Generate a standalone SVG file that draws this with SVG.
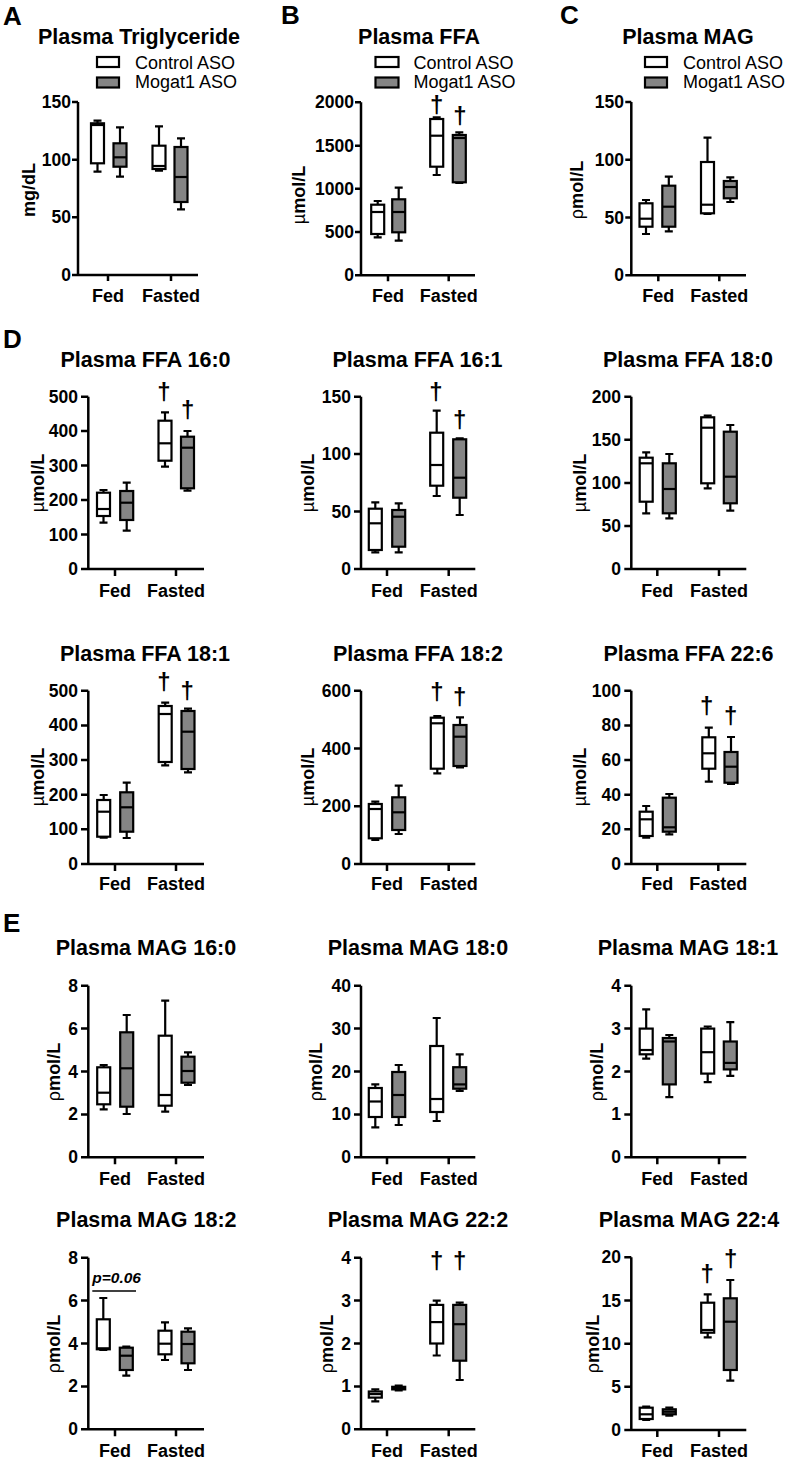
<svg xmlns="http://www.w3.org/2000/svg" width="787" height="1459" viewBox="0 0 787 1459">
<style>
text{font-family:"Liberation Sans",Arial,sans-serif;fill:#000}
.ax{stroke:#000;stroke-width:2.5;fill:none}
.wk{stroke:#000;stroke-width:2.2;fill:none}
.bw{stroke:#000;stroke-width:2.2;fill:#fff}
.bg{stroke:#000;stroke-width:2.2;fill:#858585}
.tl{font-size:17.5px;font-weight:bold;text-anchor:end}
.ti{font-size:21.5px;font-weight:bold;text-anchor:middle}
.xl{font-size:18px;font-weight:bold;text-anchor:middle}
.yl{font-size:18px;font-weight:bold;text-anchor:middle}
.pl{font-size:26px;font-weight:bold}
.lg{font-size:18px}
.dg{font-size:24px;font-weight:bold;text-anchor:middle}
.n{font-weight:normal}
</style>
<rect width="787" height="1459" fill="#fff"/>
<g id="panel-letters">
<text class="pl" x="3" y="25">A</text>
<text class="pl" x="281" y="24">B</text>
<text class="pl" x="560" y="24">C</text>
<text class="pl" x="3" y="348">D</text>
<text class="pl" x="3" y="932">E</text>
</g>

<!-- Panel A -->
<g id="panelA">
<text class="ti" x="139" y="44">Plasma Triglyceride</text>
<rect class="bw" x="97" y="57" width="22" height="10"/>
<rect class="bg" x="97" y="77.5" width="22" height="10"/>
<text class="lg" x="135" y="68.5">Control ASO</text>
<text class="lg" x="135" y="88">Mogat1 ASO</text>
<path class="ax" d="M78,102V275H198M72,102h6M72,159.7h6M72,217.3h6M72,275h6M108,275v6M171,275v6"/>
<text class="tl" x="71" y="108">150</text><text class="tl" x="71" y="165.7">100</text><text class="tl" x="71" y="223.3">50</text><text class="tl" x="71" y="281">0</text>
<text class="yl" transform="translate(35,190) rotate(-90)">mg/dL</text>
<text class="xl" x="108" y="302">Fed</text><text class="xl" x="171" y="302">Fasted</text>
<g id="A-ctl-fed"><path class="wk" d="M97.5,120.7V123.3M97.5,163.3V171.7M93.5,120.7h8M93.5,171.7h8"/><rect class="bw" x="91" y="123.3" width="13" height="40"/><path class="wk" d="M91,125h13"/></g>
<g id="A-mog-fed"><path class="wk" d="M120,127.3V143.3M120,166.7V176.7M116,127.3h8M116,176.7h8"/><rect class="bg" x="113.5" y="143.3" width="13" height="23.4"/><path class="wk" d="M113.5,157.3h13"/></g>
<g id="A-ctl-fast"><path class="wk" d="M159,126.3V145.7M159,169V170.7M155,126.3h8M155,170.7h8"/><rect class="bw" x="152.5" y="145.7" width="13" height="23.3"/><path class="wk" d="M152.5,166h13"/></g>
<g id="A-mog-fast"><path class="wk" d="M181,138.3V147M181,202V209.3M177,138.3h8M177,209.3h8"/><rect class="bg" x="174.5" y="147" width="13" height="55"/><path class="wk" d="M174.5,177h13"/></g>
</g>

<!-- Panel B -->
<g id="panelB">
<text class="ti" x="419" y="44">Plasma FFA</text>
<rect class="bw" x="375.5" y="57" width="23" height="10"/>
<rect class="bg" x="375.5" y="77.5" width="23" height="10"/>
<text class="lg" x="413.5" y="68.5">Control ASO</text>
<text class="lg" x="413.5" y="88">Mogat1 ASO</text>
<path class="ax" d="M361,102.3V275.3H475M355,102.3h6M355,145.7h6M355,188.7h6M355,232h6M355,275.3h6M388,275.3v6M448.7,275.3v6"/>
<text class="tl" x="354" y="108.3">2000</text><text class="tl" x="354" y="151.7">1500</text><text class="tl" x="354" y="194.7">1000</text><text class="tl" x="354" y="238">500</text><text class="tl" x="354" y="281.3">0</text>
<text class="yl" transform="translate(304.7,195) rotate(-90)"><tspan class="n">µ</tspan>mol/L</text>
<text class="xl" x="388" y="302">Fed</text><text class="xl" x="448.7" y="302">Fasted</text>
<g id="B-ctl-fed"><path class="wk" d="M377.7,201V204.7M377.7,234V237.3M373.7,201h8M373.7,237.3h8"/><rect class="bw" x="371.2" y="204.7" width="13" height="29.3"/><path class="wk" d="M371.2,212h13"/></g>
<g id="B-mog-fed"><path class="wk" d="M398.7,187.7V199.3M398.7,232.3V240.7M394.7,187.7h8M394.7,240.7h8"/><rect class="bg" x="392.2" y="199.3" width="13" height="33"/><path class="wk" d="M392.2,212h13"/></g>
<g id="B-ctl-fast"><path class="wk" d="M436.7,117.3V119M436.7,166.7V175M432.7,117.3h8M432.7,175h8"/><rect class="bw" x="430.2" y="119" width="13" height="47.7"/><path class="wk" d="M430.2,135.7h13"/></g>
<g id="B-mog-fast"><path class="wk" d="M459.3,132.3V135M459.3,182.3V183M455.3,132.3h8M455.3,183h8"/><rect class="bg" x="452.8" y="135" width="13" height="47.3"/><path class="wk" d="M452.8,138h13"/></g>
<text class="dg" x="436.7" y="112.5" font-size="22">†</text><text class="dg" x="460" y="124">†</text>
</g>

<!-- Panel C -->
<g id="panelC">
<text class="ti" x="688" y="44">Plasma MAG</text>
<rect class="bw" x="645" y="57" width="22" height="10"/>
<rect class="bg" x="645" y="77.5" width="22" height="10"/>
<text class="lg" x="683" y="68.5">Control ASO</text>
<text class="lg" x="683" y="88">Mogat1 ASO</text>
<path class="ax" d="M631.3,102V275.3H746M625.3,102h6M625.3,159.7h6M625.3,217.5h6M625.3,275.3h6M658.3,275.3v6M719.3,275.3v6"/>
<text class="tl" x="624" y="108">150</text><text class="tl" x="624" y="165.7">100</text><text class="tl" x="624" y="223.5">50</text><text class="tl" x="624" y="281.3">0</text>
<text class="yl" transform="translate(582.5,190) rotate(-90)"><tspan class="n">ρ</tspan>mol/L</text>
<text class="xl" x="658.3" y="302">Fed</text><text class="xl" x="719.3" y="302">Fasted</text>
<g id="C-ctl-fed"><path class="wk" d="M646,200V203.3M646,226.7V234M642,200h8M642,234h8"/><rect class="bw" x="639.5" y="203.3" width="13" height="23.4"/><path class="wk" d="M639.5,218.7h13"/></g>
<g id="C-mog-fed"><path class="wk" d="M668.8,176.7V185.7M668.8,226.7V231.3M664.8,176.7h8M664.8,231.3h8"/><rect class="bg" x="662.3" y="185.7" width="13" height="41"/><path class="wk" d="M662.3,206.7h13"/></g>
<g id="C-ctl-fast"><path class="wk" d="M707.5,137.7V162M707.5,213.3V214M703.5,137.7h8M703.5,214h8"/><rect class="bw" x="701" y="162" width="13" height="51.3"/><path class="wk" d="M701,204.7h13"/></g>
<g id="C-mog-fast"><path class="wk" d="M730.3,177.3V181M730.3,198.3V202M726.3,177.3h8M726.3,202h8"/><rect class="bg" x="723.8" y="181" width="13" height="17.3"/><path class="wk" d="M723.8,187h13"/></g>
</g>

<!-- D: FFA 16:0 -->
<g id="D-ffa160">
<text class="ti" x="145.5" y="367">Plasma FFA 16:0</text>
<path class="ax" d="M88.3,396.7V569H204M81,569h7.3M81,534.5h7.3M81,500.1h7.3M81,465.6h7.3M81,431.1h7.3M81,396.7h7.3M115,569v7M176,569v7"/>
<text class="tl" x="78" y="575">0</text><text class="tl" x="78" y="540.5">100</text><text class="tl" x="78" y="506.1">200</text><text class="tl" x="78" y="471.6">300</text><text class="tl" x="78" y="437.1">400</text><text class="tl" x="78" y="402.7">500</text>
<text class="yl" transform="translate(44,483) rotate(-90)"><tspan class="n">µ</tspan>mol/L</text>
<text class="xl" x="115" y="597">Fed</text><text class="xl" x="176" y="597">Fasted</text>
<g id="D1-ctl-fed"><path class="wk" d="M103.5,490V492.7M103.5,516V522.7M99.5,490h8M99.5,522.7h8"/><rect class="bw" x="97" y="492.7" width="13" height="23.3"/><path class="wk" d="M97,509h13"/></g>
<g id="D1-mog-fed"><path class="wk" d="M126.7,482.7V491M126.7,520V530.7M122.7,482.7h8M122.7,530.7h8"/><rect class="bg" x="120.2" y="491" width="13" height="29"/><path class="wk" d="M120.2,502.7h13"/></g>
<g id="D1-ctl-fast"><path class="wk" d="M165,412.3V420.7M165,460.7V466.7M161,412.3h8M161,466.7h8"/><rect class="bw" x="158.5" y="420.7" width="13" height="40"/><path class="wk" d="M158.5,443.3h13"/></g>
<g id="D1-mog-fast"><path class="wk" d="M187.5,431V436.7M187.5,488.3V490.7M183.5,431h8M183.5,490.7h8"/><rect class="bg" x="181" y="436.7" width="13" height="51.6"/><path class="wk" d="M181,447.7h13"/></g>
<text class="dg" x="164" y="400">†</text><text class="dg" x="187.7" y="418">†</text>
</g>

<!-- D: FFA 16:1 -->
<g id="D-ffa161">
<text class="ti" x="417.5" y="367">Plasma FFA 16:1</text>
<path class="ax" d="M361,396.7V569H475.3M354,569h7M354,511.6h7M354,454.1h7M354,396.7h7M387,569v7M448.7,569v7"/>
<text class="tl" x="351" y="575">0</text><text class="tl" x="351" y="517.6">50</text><text class="tl" x="351" y="460.1">100</text><text class="tl" x="351" y="402.7">150</text>
<text class="yl" transform="translate(314,483) rotate(-90)"><tspan class="n">µ</tspan>mol/L</text>
<text class="xl" x="387" y="597">Fed</text><text class="xl" x="448.7" y="597">Fasted</text>
<g id="D2-ctl-fed"><path class="wk" d="M375.3,502.3V508.7M375.3,550V552.3M371.3,502.3h8M371.3,552.3h8"/><rect class="bw" x="368.8" y="508.7" width="13" height="41.3"/><path class="wk" d="M368.8,523.3h13"/></g>
<g id="D2-mog-fed"><path class="wk" d="M398.7,503.3V510M398.7,546.7V552.3M394.7,503.3h8M394.7,552.3h8"/><rect class="bg" x="392.2" y="510" width="13" height="36.7"/><path class="wk" d="M392.2,516.7h13"/></g>
<g id="D2-ctl-fast"><path class="wk" d="M436.7,410.7V432.7M436.7,485.7V496M432.7,410.7h8M432.7,496h8"/><rect class="bw" x="430.2" y="432.7" width="13" height="53"/><path class="wk" d="M430.2,465h13"/></g>
<g id="D2-mog-fast"><path class="wk" d="M459.7,438.3V439.3M459.7,497.7V515M455.7,438.3h8M455.7,515h8"/><rect class="bg" x="453.2" y="439.3" width="13" height="58.4"/><path class="wk" d="M453.2,477.7h13"/></g>
<text class="dg" x="436" y="400">†</text><text class="dg" x="459.7" y="428">†</text>
</g>

<!-- D: FFA 18:0 -->
<g id="D-ffa180">
<text class="ti" x="688" y="367">Plasma FFA 18:0</text>
<path class="ax" d="M631.3,396.7V569H746.3M624.3,569h7M624.3,525.9h7M624.3,482.9h7M624.3,439.8h7M624.3,396.7h7M657.3,569v7M719,569v7"/>
<text class="tl" x="621" y="575">0</text><text class="tl" x="621" y="531.9">50</text><text class="tl" x="621" y="488.9">100</text><text class="tl" x="621" y="445.8">150</text><text class="tl" x="621" y="402.7">200</text>
<text class="yl" transform="translate(586,483) rotate(-90)"><tspan class="n">µ</tspan>mol/L</text>
<text class="xl" x="657.3" y="597">Fed</text><text class="xl" x="719" y="597">Fasted</text>
<g id="D3-ctl-fed"><path class="wk" d="M646.2,452.3V457.7M646.2,501.7V513.3M642.2,452.3h8M642.2,513.3h8"/><rect class="bw" x="639.7" y="457.7" width="13" height="44"/><path class="wk" d="M639.7,463.3h13"/></g>
<g id="D3-mog-fed"><path class="wk" d="M669.3,454V463.3M669.3,513.3V518.3M665.3,454h8M665.3,518.3h8"/><rect class="bg" x="662.8" y="463.3" width="13" height="50"/><path class="wk" d="M662.8,489h13"/></g>
<g id="D3-ctl-fast"><path class="wk" d="M707.7,415.7V417.3M707.7,483.3V488.3M703.7,415.7h8M703.7,488.3h8"/><rect class="bw" x="701.2" y="417.3" width="13" height="66"/><path class="wk" d="M701.2,427.7h13"/></g>
<g id="D3-mog-fast"><path class="wk" d="M730.3,425V431.7M730.3,503.3V510.7M726.3,425h8M726.3,510.7h8"/><rect class="bg" x="723.8" y="431.7" width="13" height="71.6"/><path class="wk" d="M723.8,476.7h13"/></g>
</g>

<!-- D: FFA 18:1 -->
<g id="D-ffa181">
<text class="ti" x="145" y="660.7">Plasma FFA 18:1</text>
<path class="ax" d="M88.3,690.7V864H204M81,864h7.3M81,829.3h7.3M81,794.7h7.3M81,760h7.3M81,725.4h7.3M81,690.7h7.3M115,864v7M176,864v7"/>
<text class="tl" x="78" y="870">0</text><text class="tl" x="78" y="835.3">100</text><text class="tl" x="78" y="800.7">200</text><text class="tl" x="78" y="766">300</text><text class="tl" x="78" y="731.4">400</text><text class="tl" x="78" y="696.7">500</text>
<text class="yl" transform="translate(43.5,777) rotate(-90)"><tspan class="n">µ</tspan>mol/L</text>
<text class="xl" x="115" y="890">Fed</text><text class="xl" x="176" y="890">Fasted</text>
<g id="D4-ctl-fed"><path class="wk" d="M103.7,795V800M103.7,836.7V837.7M99.7,795h8M99.7,837.7h8"/><rect class="bw" x="97.2" y="800" width="13" height="36.7"/><path class="wk" d="M97.2,811.7h13"/></g>
<g id="D4-mog-fed"><path class="wk" d="M126.7,782.7V792.3M126.7,831.7V838M122.7,782.7h8M122.7,838h8"/><rect class="bg" x="120.2" y="792.3" width="13" height="39.4"/><path class="wk" d="M120.2,807.3h13"/></g>
<g id="D4-ctl-fast"><path class="wk" d="M165.2,702.7V706M165.2,762V765.3M161.2,702.7h8M161.2,765.3h8"/><rect class="bw" x="158.7" y="706" width="13" height="56"/><path class="wk" d="M158.7,714h13"/></g>
<g id="D4-mog-fast"><path class="wk" d="M188,708.7V711M188,769V772.3M184,708.7h8M184,772.3h8"/><rect class="bg" x="181.5" y="711" width="13" height="58"/><path class="wk" d="M181.5,731.7h13"/></g>
<text class="dg" x="164" y="690">†</text><text class="dg" x="187.3" y="699">†</text>
</g>

<!-- D: FFA 18:2 -->
<g id="D-ffa182">
<text class="ti" x="418" y="660.7">Plasma FFA 18:2</text>
<path class="ax" d="M361,690.7V864H475.3M354,864h7M354,806.2h7M354,748.5h7M354,690.7h7M387,864v7M448.7,864v7"/>
<text class="tl" x="351" y="870">0</text><text class="tl" x="351" y="812.2">200</text><text class="tl" x="351" y="754.5">400</text><text class="tl" x="351" y="696.7">600</text>
<text class="yl" transform="translate(314,777) rotate(-90)"><tspan class="n">µ</tspan>mol/L</text>
<text class="xl" x="387" y="890">Fed</text><text class="xl" x="448.7" y="890">Fasted</text>
<g id="D5-ctl-fed"><path class="wk" d="M375.3,801.7V804M375.3,838.3V840M371.3,801.7h8M371.3,840h8"/><rect class="bw" x="368.8" y="804" width="13" height="34.3"/><path class="wk" d="M368.8,809h13"/></g>
<g id="D5-mog-fed"><path class="wk" d="M398.7,785.7V797.3M398.7,830V834M394.7,785.7h8M394.7,834h8"/><rect class="bg" x="392.2" y="797.3" width="13" height="32.7"/><path class="wk" d="M392.2,812.3h13"/></g>
<g id="D5-ctl-fast"><path class="wk" d="M437.3,716V717.7M437.3,768.7V773.3M433.3,716h8M433.3,773.3h8"/><rect class="bw" x="430.8" y="717.7" width="13" height="51"/><path class="wk" d="M430.8,723.3h13"/></g>
<g id="D5-mog-fast"><path class="wk" d="M460,717.3V725M460,766V767.3M456,717.3h8M456,767.3h8"/><rect class="bg" x="453.5" y="725" width="13" height="41"/><path class="wk" d="M453.5,736.7h13"/></g>
<text class="dg" x="437" y="700">†</text><text class="dg" x="459.7" y="705">†</text>
</g>

<!-- D: FFA 22:6 -->
<g id="D-ffa226">
<text class="ti" x="688.5" y="660.7">Plasma FFA 22:6</text>
<path class="ax" d="M631.3,690.7V864H746.3M624.3,864h7M624.3,829.3h7M624.3,794.7h7M624.3,760h7M624.3,725.4h7M624.3,690.7h7M657.3,864v7M718.3,864v7"/>
<text class="tl" x="621" y="870">0</text><text class="tl" x="621" y="835.3">20</text><text class="tl" x="621" y="800.7">40</text><text class="tl" x="621" y="766">60</text><text class="tl" x="621" y="731.4">80</text><text class="tl" x="621" y="696.7">100</text>
<text class="yl" transform="translate(586,777) rotate(-90)"><tspan class="n">µ</tspan>mol/L</text>
<text class="xl" x="657.3" y="890">Fed</text><text class="xl" x="718.3" y="890">Fasted</text>
<g id="D6-ctl-fed"><path class="wk" d="M646.2,806V811.7M646.2,836V837.7M642.2,806h8M642.2,837.7h8"/><rect class="bw" x="639.7" y="811.7" width="13" height="24.3"/><path class="wk" d="M639.7,819.3h13"/></g>
<g id="D6-mog-fed"><path class="wk" d="M669.3,794V797.7M669.3,831.7V834.3M665.3,794h8M665.3,834.3h8"/><rect class="bg" x="662.8" y="797.7" width="13" height="34"/><path class="wk" d="M662.8,827.3h13"/></g>
<g id="D6-ctl-fast"><path class="wk" d="M708.8,727.7V737.3M708.8,768.7V781.7M704.8,727.7h8M704.8,781.7h8"/><rect class="bw" x="702.3" y="737.3" width="13" height="31.4"/><path class="wk" d="M702.3,753.3h13"/></g>
<g id="D6-mog-fast"><path class="wk" d="M731,737V752M731,782.7V784M727,737h8M727,784h8"/><rect class="bg" x="724.5" y="752" width="13" height="30.7"/><path class="wk" d="M724.5,766.7h13"/></g>
<text class="dg" x="706.7" y="714">†</text><text class="dg" x="730.7" y="724">†</text>
</g>

<!-- E: MAG 16:0 -->
<g id="E-mag160">
<text class="ti" x="146" y="955">Plasma MAG 16:0</text>
<path class="ax" d="M88.3,985.7V1157.3H204M81,1157.3h7.3M81,1114.4h7.3M81,1071.5h7.3M81,1028.6h7.3M81,985.7h7.3M115,1157.3v7M176,1157.3v7"/>
<text class="tl" x="78" y="1163.3">0</text><text class="tl" x="78" y="1120.4">2</text><text class="tl" x="78" y="1077.5">4</text><text class="tl" x="78" y="1034.6">6</text><text class="tl" x="78" y="991.7">8</text>
<text class="yl" transform="translate(60,1072) rotate(-90)"><tspan class="n">ρ</tspan>mol/L</text>
<text class="xl" x="115" y="1185">Fed</text><text class="xl" x="176" y="1185">Fasted</text>
<g id="E1-ctl-fed"><path class="wk" d="M103.7,1065V1067.3M103.7,1104.3V1109.3M99.7,1065h8M99.7,1109.3h8"/><rect class="bw" x="97.2" y="1067.3" width="13" height="37"/><path class="wk" d="M97.2,1092.7h13"/></g>
<g id="E1-mog-fed"><path class="wk" d="M126.7,1015V1032.3M126.7,1106.7V1114M122.7,1015h8M122.7,1114h8"/><rect class="bg" x="120.2" y="1032.3" width="13" height="74.4"/><path class="wk" d="M120.2,1068.3h13"/></g>
<g id="E1-ctl-fast"><path class="wk" d="M165.2,1000.7V1035.7M165.2,1105.7V1111.7M161.2,1000.7h8M161.2,1111.7h8"/><rect class="bw" x="158.7" y="1035.7" width="13" height="70"/><path class="wk" d="M158.7,1095h13"/></g>
<g id="E1-mog-fast"><path class="wk" d="M188,1052.3V1056.7M188,1082.7V1085M184,1052.3h8M184,1085h8"/><rect class="bg" x="181.5" y="1056.7" width="13" height="26"/><path class="wk" d="M181.5,1071h13"/></g>
</g>

<!-- E: MAG 18:0 -->
<g id="E-mag180">
<text class="ti" x="418" y="955">Plasma MAG 18:0</text>
<path class="ax" d="M361,985.7V1157.3H475.3M354,1157.3h7M354,1114.4h7M354,1071.5h7M354,1028.6h7M354,985.7h7M387,1157.3v7M448.7,1157.3v7"/>
<text class="tl" x="351" y="1163.3">0</text><text class="tl" x="351" y="1120.4">10</text><text class="tl" x="351" y="1077.5">20</text><text class="tl" x="351" y="1034.6">30</text><text class="tl" x="351" y="991.7">40</text>
<text class="yl" transform="translate(322,1072) rotate(-90)"><tspan class="n">ρ</tspan>mol/L</text>
<text class="xl" x="387" y="1185">Fed</text><text class="xl" x="448.7" y="1185">Fasted</text>
<g id="E2-ctl-fed"><path class="wk" d="M375.3,1084.4V1088M375.3,1117V1127.3M371.3,1084.4h8M371.3,1127.3h8"/><rect class="bw" x="368.8" y="1088" width="13" height="29"/><path class="wk" d="M368.8,1101.5h13"/></g>
<g id="E2-mog-fed"><path class="wk" d="M398.7,1065V1072M398.7,1117V1125M394.7,1065h8M394.7,1125h8"/><rect class="bg" x="392.2" y="1072" width="13" height="45"/><path class="wk" d="M392.2,1095h13"/></g>
<g id="E2-ctl-fast"><path class="wk" d="M436.7,1018V1046M436.7,1112V1121M432.7,1018h8M432.7,1121h8"/><rect class="bw" x="430.2" y="1046" width="13" height="66"/><path class="wk" d="M430.2,1099h13"/></g>
<g id="E2-mog-fast"><path class="wk" d="M459.7,1054.3V1067.2M459.7,1088.7V1090.8M455.7,1054.3h8M455.7,1090.8h8"/><rect class="bg" x="453.2" y="1067.2" width="13" height="21.5"/><path class="wk" d="M453.2,1084.4h13"/></g>
</g>

<!-- E: MAG 18:1 -->
<g id="E-mag181">
<text class="ti" x="688" y="955">Plasma MAG 18:1</text>
<path class="ax" d="M631.3,985.7V1157.3H746.3M624.3,1157.3h7M624.3,1114.4h7M624.3,1071.5h7M624.3,1028.6h7M624.3,985.7h7M657.3,1157.3v7M719,1157.3v7"/>
<text class="tl" x="621" y="1163.3">0</text><text class="tl" x="621" y="1120.4">1</text><text class="tl" x="621" y="1077.5">2</text><text class="tl" x="621" y="1034.6">3</text><text class="tl" x="621" y="991.7">4</text>
<text class="yl" transform="translate(603,1072) rotate(-90)"><tspan class="n">ρ</tspan>mol/L</text>
<text class="xl" x="657.3" y="1185">Fed</text><text class="xl" x="719" y="1185">Fasted</text>
<g id="E3-ctl-fed"><path class="wk" d="M646.2,1009.3V1028.6M646.2,1054.3V1058.6M642.2,1009.3h8M642.2,1058.6h8"/><rect class="bw" x="639.7" y="1028.6" width="13" height="25.7"/><path class="wk" d="M639.7,1050h13"/></g>
<g id="E3-mog-fed"><path class="wk" d="M669.3,1035V1038M669.3,1084.4V1097.2M665.3,1035h8M665.3,1097.2h8"/><rect class="bg" x="662.8" y="1038" width="13" height="46.4"/><path class="wk" d="M662.8,1041.5h13"/></g>
<g id="E3-ctl-fast"><path class="wk" d="M707.7,1026.5V1028.6M707.7,1073.6V1082.2M703.7,1026.5h8M703.7,1082.2h8"/><rect class="bw" x="701.2" y="1028.6" width="13" height="45"/><path class="wk" d="M701.2,1052.2h13"/></g>
<g id="E3-mog-fast"><path class="wk" d="M730.3,1022.2V1041.5M730.3,1069.4V1075.8M726.3,1022.2h8M726.3,1075.8h8"/><rect class="bg" x="723.8" y="1041.5" width="13" height="27.9"/><path class="wk" d="M723.8,1062.9h13"/></g>
</g>

<!-- E: MAG 18:2 -->
<g id="E-mag182">
<text class="ti" x="146.3" y="1226.7">Plasma MAG 18:2</text>
<path class="ax" d="M88.3,1257.7V1429.3H204M81,1429.3h7.3M81,1386.4h7.3M81,1343.5h7.3M81,1300.6h7.3M81,1257.7h7.3M115,1429.3v7M176,1429.3v7"/>
<text class="tl" x="78" y="1435.3">0</text><text class="tl" x="78" y="1392.4">2</text><text class="tl" x="78" y="1349.5">4</text><text class="tl" x="78" y="1306.6">6</text><text class="tl" x="78" y="1263.7">8</text>
<text class="yl" transform="translate(60,1344) rotate(-90)"><tspan class="n">ρ</tspan>mol/L</text>
<text class="xl" x="115" y="1457">Fed</text><text class="xl" x="176" y="1457">Fasted</text>
<text x="92.3" y="1283.3" font-size="15.5" font-weight="bold" font-style="italic">p=0.06</text>
<path d="M92.3,1291H136" stroke="#000" stroke-width="1.6"/>
<g id="E4-ctl-fed"><path class="wk" d="M103.3,1298V1319.3M103.3,1349.3V1350M99.3,1298h8M99.3,1350h8"/><rect class="bw" x="96.8" y="1319.3" width="13" height="30"/><path class="wk" d="M96.8,1348.3h13"/></g>
<g id="E4-mog-fed"><path class="wk" d="M126.3,1346.7V1347.7M126.3,1370V1375.7M122.3,1346.7h8M122.3,1375.7h8"/><rect class="bg" x="119.8" y="1347.7" width="13" height="22.3"/><path class="wk" d="M119.8,1355.7h13"/></g>
<g id="E4-ctl-fast"><path class="wk" d="M165,1322.3V1330.7M165,1354.3V1360M161,1322.3h8M161,1360h8"/><rect class="bw" x="158.5" y="1330.7" width="13" height="23.6"/><path class="wk" d="M158.5,1343.7h13"/></g>
<g id="E4-mog-fast"><path class="wk" d="M188,1328.3V1331.7M188,1363.3V1370M184,1328.3h8M184,1370h8"/><rect class="bg" x="181.5" y="1331.7" width="13" height="31.6"/><path class="wk" d="M181.5,1344h13"/></g>
</g>

<!-- E: MAG 22:2 -->
<g id="E-mag222">
<text class="ti" x="418" y="1226.7">Plasma MAG 22:2</text>
<path class="ax" d="M361,1257.7V1429.3H475.3M354,1429.3h7M354,1386.4h7M354,1343.5h7M354,1300.6h7M354,1257.7h7M387,1429.3v7M448.7,1429.3v7"/>
<text class="tl" x="351" y="1435.3">0</text><text class="tl" x="351" y="1392.4">1</text><text class="tl" x="351" y="1349.5">2</text><text class="tl" x="351" y="1306.6">3</text><text class="tl" x="351" y="1263.7">4</text>
<text class="yl" transform="translate(333,1344) rotate(-90)"><tspan class="n">ρ</tspan>mol/L</text>
<text class="xl" x="387" y="1457">Fed</text><text class="xl" x="448.7" y="1457">Fasted</text>
<g id="E5-ctl-fed"><path class="wk" d="M375.3,1389.4V1391.5M375.3,1397.6V1401.4M371.3,1389.4h8M371.3,1401.4h8"/><rect class="bw" x="368.8" y="1391.5" width="13" height="6.1"/><path class="wk" d="M368.8,1394.1h13"/></g>
<g id="E5-mog-fed"><path class="wk" d="M398.7,1385.5V1386.8M398.7,1389.4V1390.3M394.7,1385.5h8M394.7,1390.3h8"/><rect class="bg" x="392.2" y="1386.8" width="13" height="2.6"/><path class="wk" d="M392.2,1388.1h13"/></g>
<g id="E5-ctl-fast"><path class="wk" d="M436.7,1300.6V1304.9M436.7,1343.5V1355.5M432.7,1300.6h8M432.7,1355.5h8"/><rect class="bw" x="430.2" y="1304.9" width="13" height="38.6"/><path class="wk" d="M430.2,1322.1h13"/></g>
<g id="E5-mog-fast"><path class="wk" d="M459.7,1302.7V1304.9M459.7,1360.7V1380M455.7,1302.7h8M455.7,1380h8"/><rect class="bg" x="453.2" y="1304.9" width="13" height="55.8"/><path class="wk" d="M453.2,1324.2h13"/></g>
<text class="dg" x="436.7" y="1269">†</text><text class="dg" x="459.7" y="1269">†</text>
</g>

<!-- E: MAG 22:4 -->
<g id="E-mag224">
<text class="ti" x="689" y="1226.7">Plasma MAG 22:4</text>
<path class="ax" d="M631.3,1257.3V1430H746.3M624.3,1430h7M624.3,1386.8h7M624.3,1343.7h7M624.3,1300.5h7M624.3,1257.3h7M657.3,1430v7M719,1430v7"/>
<text class="tl" x="621" y="1436">0</text><text class="tl" x="621" y="1392.8">5</text><text class="tl" x="621" y="1349.7">10</text><text class="tl" x="621" y="1306.5">15</text><text class="tl" x="621" y="1263.3">20</text>
<text class="yl" transform="translate(599,1344) rotate(-90)"><tspan class="n">ρ</tspan>mol/L</text>
<text class="xl" x="657.3" y="1457">Fed</text><text class="xl" x="719" y="1457">Fasted</text>
<g id="E6-ctl-fed"><path class="wk" d="M646.2,1406.7V1407.7M646.2,1419V1420M642.2,1406.7h8M642.2,1420h8"/><rect class="bw" x="639.7" y="1407.7" width="13" height="11.3"/><path class="wk" d="M639.7,1414.3h13"/></g>
<g id="E6-mog-fed"><path class="wk" d="M669.3,1407.7V1409.3M669.3,1414.3V1415.7M665.3,1407.7h8M665.3,1415.7h8"/><rect class="bg" x="662.8" y="1409.3" width="13" height="5"/><path class="wk" d="M662.8,1411.7h13"/></g>
<g id="E6-ctl-fast"><path class="wk" d="M707.7,1294.3V1302.7M707.7,1332.7V1337.3M703.7,1294.3h8M703.7,1337.3h8"/><rect class="bw" x="701.2" y="1302.7" width="13" height="30"/><path class="wk" d="M701.2,1330h13"/></g>
<g id="E6-mog-fast"><path class="wk" d="M730.3,1280V1298.3M730.3,1370V1380.7M726.3,1280h8M726.3,1380.7h8"/><rect class="bg" x="723.8" y="1298.3" width="13" height="71.7"/><path class="wk" d="M723.8,1321.7h13"/></g>
<text class="dg" x="707.3" y="1282">†</text><text class="dg" x="730.7" y="1267">†</text>
</g>
</svg>
